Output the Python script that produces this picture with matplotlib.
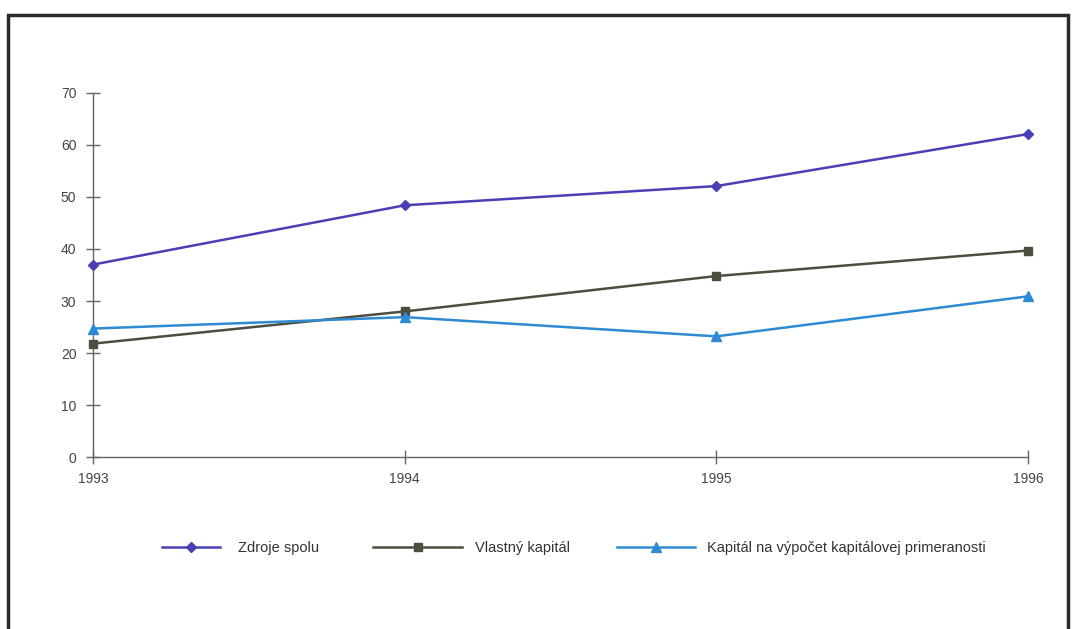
import matplotlib
matplotlib.use("Agg")
import matplotlib.pyplot as plt
from matplotlib.patches import Rectangle

plt.rcParams['font.family'] = ['Liberation Sans', 'DejaVu Sans']

years = [1993, 1994, 1995, 1996]
zdroje_spolu = [37.0, 48.4, 52.1, 62.1]
vlastny_kapital = [21.8, 28.0, 34.8, 39.7]
kapital_primeranost = [24.7, 26.9, 23.2, 30.9]
y_ticks = [0, 10, 20, 30, 40, 50, 60, 70]

labels = ["Zdroje spolu", "Vlastný kapitál",
          "Kapitál na výpočet kapitálovej primeranosti"]

fig = plt.figure(figsize=(10.72, 6.29), dpi=100)
ax = fig.add_axes([0.0868, 0.2734, 0.8722, 0.5788])

h1, = ax.plot(years, zdroje_spolu, color='#4a3fb5', lw=1.8, marker='D', ms=5.5,
              label=labels[0], clip_on=False, zorder=3)
h2, = ax.plot(years, vlastny_kapital, color='#4d4d40', lw=1.8, marker='s', ms=5.5,
              label=labels[1], clip_on=False, zorder=3)
h3, = ax.plot(years, kapital_primeranost, color='#2e8ad3', lw=1.8, marker='^', ms=7.5,
              label=labels[2], clip_on=False, zorder=3)

ax.set_xlim(1993, 1996)
ax.set_ylim(0, 70)
ax.set_xticks(years)
ax.set_xticklabels([str(y) for y in years])
ax.set_yticks(y_ticks)

for side in ('top', 'right'):
    ax.spines[side].set_visible(False)
for side in ('left', 'bottom'):
    ax.spines[side].set_color('#666666')
    ax.spines[side].set_linewidth(1.0)

ax.tick_params(axis='both', direction='inout', length=10, width=1.0,
               color='#666666', labelsize=10, labelcolor='#444444')
ax.tick_params(axis='y', pad=7)
ax.tick_params(axis='x', pad=6)

# one legend entry per series, each with its own handle length
entries = [(h1, labels[0], 0.1511, 3.97, 1.23),
           (h2, labels[1], 0.3480, 6.10, 0.90),
           (h3, labels[2], 0.5756, 5.34, 0.82)]
for handle, text, x0, hl, pad in entries:
    leg = fig.legend([handle], [text], loc='center left',
                     bbox_to_anchor=(x0, 0.129), frameon=False, fontsize=10.5,
                     handlelength=hl, handletextpad=pad, borderpad=0,
                     borderaxespad=0, labelcolor='#333333')

# outer frame around the chart
fig.patches.append(Rectangle((0.0075, -0.1), 0.989, 1.076,
                             transform=fig.transFigure, fill=False,
                             edgecolor='#2a2a2a', linewidth=2.5))

fig.savefig('out.png', dpi=100, facecolor='white')
